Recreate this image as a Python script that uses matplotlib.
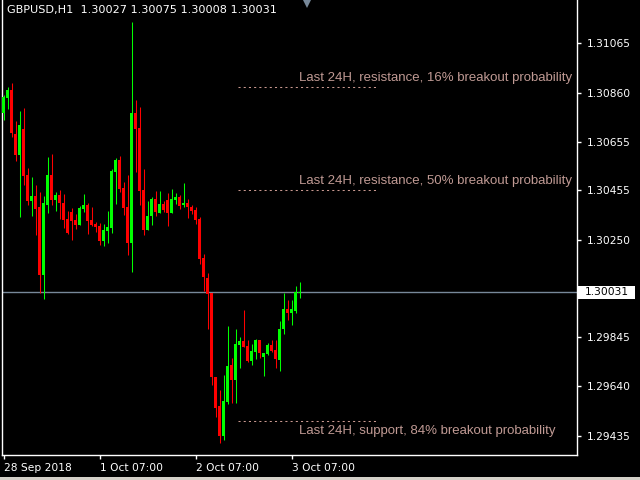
import numpy as np
import matplotlib
matplotlib.use('Agg')
import matplotlib.pyplot as plt
from matplotlib.patches import Rectangle

symbol_title = 'GBPUSD,H1  1.30027 1.30075 1.30008 1.30031'
last_price = 1.30031

# hourly candles (open, high, low, close)
opens = [1.30777, 1.30839, 1.30871, 1.30688, 1.30601, 1.30708, 1.30518, 1.30410, 1.30431, 1.30386,
         1.30103, 1.30393, 1.30518, 1.30414, 1.30435, 1.30401, 1.30335, 1.30363, 1.30331, 1.30310,
         1.30377, 1.30393, 1.30331, 1.30315, 1.30307, 1.30245, 1.30285, 1.30299, 1.30532, 1.30580,
         1.30465, 1.30384, 1.30237, 1.30774, 1.30712, 1.30456, 1.30290, 1.30348, 1.30418, 1.30361,
         1.30398, 1.30414, 1.30361, 1.30414, 1.30428, 1.30393, 1.30403, 1.30386, 1.30373, 1.30335,
         1.30175, 1.30091, 1.30029, 1.29680, 1.29559, 1.29435, 1.29576, 1.29729, 1.29667, 1.29812,
         1.29829, 1.29808, 1.29745, 1.29784, 1.29833, 1.29763, 1.29775, 1.29812, 1.29791, 1.29750,
         1.29878, 1.29961, 1.29945, 1.29953, 1.30027]
highs = [1.30850, 1.30882, 1.30899, 1.30742, 1.30784, 1.30796, 1.30546, 1.30511, 1.30477, 1.30449,
         1.30431, 1.30592, 1.30605, 1.30449, 1.30456, 1.30439, 1.30369, 1.30380, 1.30356, 1.30391,
         1.30439, 1.30401, 1.30386, 1.30324, 1.30317, 1.30315, 1.30369, 1.30543, 1.30590, 1.30597,
         1.30488, 1.30518, 1.31155, 1.30830, 1.30799, 1.30543, 1.30410, 1.30428, 1.30452, 1.30452,
         1.30410, 1.30445, 1.30460, 1.30445, 1.30435, 1.30486, 1.30418, 1.30393, 1.30384, 1.30345,
         1.30190, 1.30110, 1.30029, 1.29680, 1.29625, 1.29687, 1.29891, 1.29759, 1.29878, 1.29844,
         1.29957, 1.29833, 1.29816, 1.29837, 1.29833, 1.29780, 1.29819, 1.29833, 1.29833, 1.29912,
         1.30029, 1.29999, 1.29999, 1.30057, 1.30075]
lows = [1.30747, 1.30792, 1.30677, 1.30577, 1.30345, 1.30477, 1.30393, 1.30349, 1.30269, 1.30029,
        1.30003, 1.30361, 1.30393, 1.30370, 1.30335, 1.30299, 1.30273, 1.30248, 1.30294, 1.30310,
        1.30366, 1.30273, 1.30307, 1.30280, 1.30227, 1.30224, 1.30237, 1.30276, 1.30398, 1.30449,
        1.30352, 1.30186, 1.30116, 1.30532, 1.30393, 1.30269, 1.30290, 1.30310, 1.30348, 1.30361,
        1.30363, 1.30307, 1.30361, 1.30398, 1.30377, 1.30386, 1.30341, 1.30355, 1.30315, 1.30148,
        1.30037, 1.29878, 1.29646, 1.29514, 1.29406, 1.29417, 1.29566, 1.29572, 1.29570, 1.29718,
        1.29805, 1.29740, 1.29729, 1.29754, 1.29759, 1.29684, 1.29770, 1.29784, 1.29718, 1.29704,
        1.29858, 1.29916, 1.29895, 1.29945, 1.30008]
closes = [1.30843, 1.30871, 1.30694, 1.30601, 1.30726, 1.30514, 1.30410, 1.30431, 1.30377, 1.30103,
          1.30401, 1.30518, 1.30414, 1.30435, 1.30401, 1.30331, 1.30276, 1.30327, 1.30310, 1.30382,
          1.30393, 1.30327, 1.30310, 1.30303, 1.30244, 1.30290, 1.30301, 1.30535, 1.30580, 1.30460,
          1.30382, 1.30237, 1.30774, 1.30709, 1.30452, 1.30290, 1.30348, 1.30418, 1.30363, 1.30398,
          1.30373, 1.30361, 1.30418, 1.30428, 1.30391, 1.30403, 1.30384, 1.30369, 1.30331, 1.30169,
          1.30096, 1.30024, 1.29680, 1.29551, 1.29435, 1.29579, 1.29725, 1.29667, 1.29816, 1.29829,
          1.29805, 1.29745, 1.29787, 1.29833, 1.29777, 1.29780, 1.29812, 1.29787, 1.29754, 1.29878,
          1.29961, 1.29945, 1.29961, 1.30031, 1.30031]

price_ticks = [1.31065, 1.30860, 1.30655, 1.30455, 1.30250, 1.29845, 1.29640, 1.29435]
date_ticks = [0, 24, 48, 72]
date_labels = ['28 Sep 2018', '1 Oct 07:00', '2 Oct 07:00', '3 Oct 07:00']

levels = [1.30884, 1.30456, 1.29496]
level_texts = ['Last 24H, resistance, 16% breakout probability',
               'Last 24H, resistance, 50% breakout probability',
               'Last 24H, support, 84% breakout probability']
level_span = (58.6, 93.6)

# plot setting
fig = plt.figure(figsize=(6.4, 4.8), dpi=100, facecolor='black')
ax = fig.add_axes([2/640, 25/480, 575/640, 455/480], facecolor='black')
ax.set_xlim(-0.425, 143.325)
ax.set_ylim(1.29355, 1.31245)

for side in ['left', 'bottom', 'right']:
    ax.spines[side].set_color('white')
    ax.spines[side].set_linewidth(1)
ax.spines['top'].set_visible(False)

ax.yaxis.tick_right()
ax.set_yticks(price_ticks)
ax.set_yticklabels([f'{p:.5f}' for p in price_ticks])
ax.set_xticks(date_ticks)
ax.set_xticklabels(date_labels, ha='left')
ax.tick_params(axis='both', colors='white', length=3, width=1, labelsize=7.7, pad=2)
ax.tick_params(axis='x', pad=3)
ax.tick_params(axis='y', pad=4)

# candles
idx = np.arange(len(opens))
o = np.array(opens); h = np.array(highs); l = np.array(lows); c = np.array(closes)
up = c >= o
cols = np.where(up, '#00ff00', '#ff0000')
ax.vlines(idx, l, h, colors=cols, linewidth=0.75, zorder=2)
body_low = np.minimum(o, c)
body_h = np.maximum(np.abs(c - o), 0.000012)
ax.bar(idx, body_h, bottom=body_low, width=0.75, color=cols, linewidth=0, zorder=3)

# current price line and label
ax.axhline(last_price, color='#778899', linewidth=1, zorder=1)
ytr = ax.get_yaxis_transform()
ax.add_patch(Rectangle((1.0017, last_price - 0.00026), 57/575, 0.00052, transform=ytr,
                       facecolor='white', edgecolor='none', clip_on=False, zorder=5))
ax.text(1 + 8/575, last_price, f'{last_price:.5f}', transform=ytr,
        color='black', fontsize=7.7, va='center', ha='left', clip_on=False, zorder=6)

# breakout levels
for i, (lv, txt) in enumerate(zip(levels, level_texts)):
    ax.hlines(lv, level_span[0], level_span[1], colors='#c8988f', linewidth=0.75,
              linestyles=(0, (2.0, 3.0)), zorder=2)
    if i < 2:
        ax.annotate(txt, (73.8, lv), xytext=(0, 2), textcoords='offset points',
                    color='#c09a94', fontsize=9.5, family='Liberation Sans', va='bottom')
    else:
        ax.annotate(txt, (73.8, lv), xytext=(0, -2.5), textcoords='offset points',
                    color='#c09a94', fontsize=9.5, family='Liberation Sans', va='top')

# title and shift marker
ax.text(5/575, 1 - 10/455, symbol_title, transform=ax.transAxes, color='white',
        fontsize=8.1, va='center', ha='left')
ax.plot([75.7], [1.31236], marker='v', markersize=8, color='#778899', clip_on=False,
        markeredgewidth=0, zorder=5)

fig.patches.append(Rectangle((0, 0), 1, 3/480, transform=fig.transFigure,
                             facecolor='#d4d0c8', edgecolor='none'))

fig.savefig('out.png', dpi=100, facecolor='black')
